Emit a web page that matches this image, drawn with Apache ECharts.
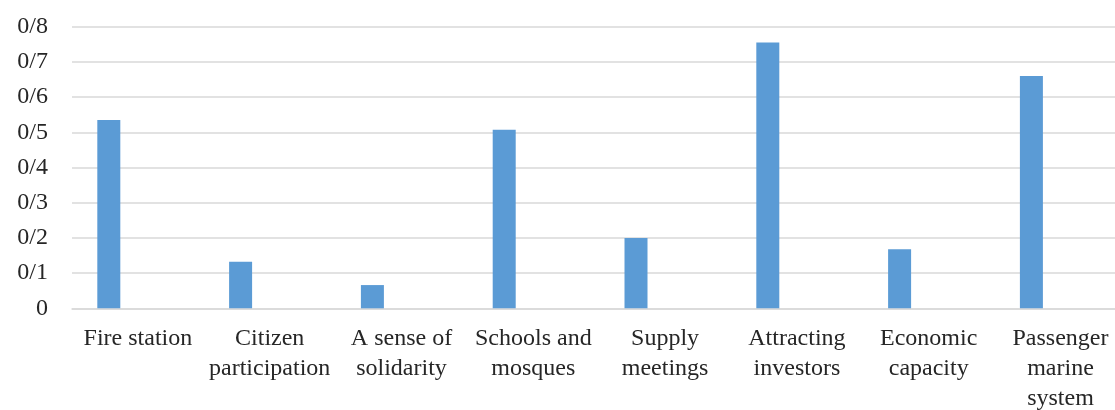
<!DOCTYPE html>
<html>
<head>
<meta charset="utf-8">
<script src="https://cdn.jsdelivr.net/npm/echarts@6/dist/echarts.min.js"></script>
<style>
html,body{margin:0;padding:0;background:#fff;}
#chart{width:1115px;height:410px;}
</style>
</head>
<body>
<div id="chart"></div>
<script>
var categories = [
  'Fire station',
  'Citizen\nparticipation',
  'A sense of\nsolidarity',
  'Schools and\nmosques',
  'Supply\nmeetings',
  'Attracting\ninvestors',
  'Economic\ncapacity',
  'Passenger\nmarine\nsystem'
];
var values = [0.535, 0.132, 0.066, 0.507, 0.200, 0.755, 0.168, 0.660];
var emptyValues = [null, null, null, null, null, null, null, null];
var yTickLabels = ['0', '0/1', '0/2', '0/3', '0/4', '0/5', '0/6', '0/7', '0/8'];

var font = '"Liberation Serif", "Times New Roman", serif';
var chart = echarts.init(document.getElementById('chart'));
chart.setOption({
  animation: false,
  grid: {left: 72, width: 1054.4, top: 26.7, height: 281.6, containLabel: false, outerBoundsMode: 'none'},
  xAxis: {
    type: 'category',
    data: categories,
    axisLine: {show: true, lineStyle: {color: '#d9d9d9', width: 1.5}},
    axisTick: {show: false},
    axisLabel: {
      interval: 0,
      margin: 15,
      color: '#262626',
      fontFamily: font,
      fontSize: 24,
      lineHeight: 30
    }
  },
  yAxis: {
    type: 'value',
    min: 0,
    max: 0.8,
    interval: 0.1,
    axisLine: {show: false},
    axisTick: {show: false},
    splitLine: {lineStyle: {color: '#d9d9d9', width: 1.5}},
    axisLabel: {
      margin: 24,
      color: '#262626',
      fontFamily: font,
      fontSize: 24,
      formatter: function (v) { return yTickLabels[Math.round(v * 10)]; }
    }
  },
  series: [
    {
      type: 'bar',
      data: values,
      barWidth: 23,
      barGap: '153%',
      itemStyle: {color: '#5b9bd5'}
    },
    {
      type: 'bar',
      data: emptyValues,
      barWidth: 23,
      itemStyle: {color: '#ed7d31'}
    }
  ]
});
</script>
</body>
</html>
